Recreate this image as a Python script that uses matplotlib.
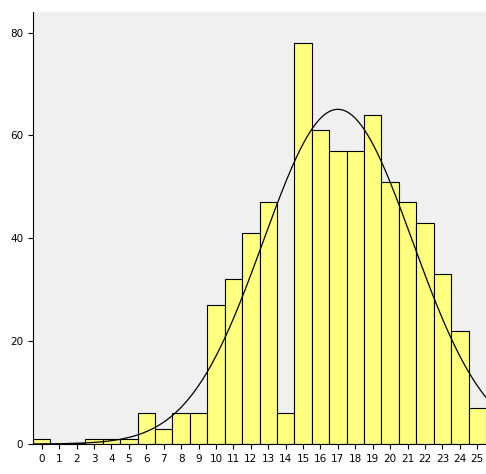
import numpy as np
import matplotlib
matplotlib.use("Agg")
import matplotlib.pyplot as plt

cats = list(range(26))
counts = [1,0,0.2,1,1,1,6,3,6,6,27,32,41,47,6,78,61,57,57,64,51,47,43,33,22,7]
mean, sd = 17.0, 4.28

fig = plt.figure(figsize=(4.86,4.74), dpi=100)
ax = fig.add_axes([33/486, 30/474, 453/486, 432/474])
ax.set_facecolor('#f0f0f0')
ax.bar(cats, counts, width=1.0, color='#ffff80', edgecolor='black', linewidth=0.8)
N = sum(counts)
xs = np.linspace(-0.5, 25.5, 400)
ax.plot(xs, N/(sd*np.sqrt(2*np.pi))*np.exp(-0.5*((xs-mean)/sd)**2), color='black', lw=0.9)
ax.set_xlim(-0.5, 25.5)
ax.set_ylim(0, 84)
ax.set_xticks(cats)
ax.set_yticks([0,20,40,60,80])
ax.tick_params(labelsize=7.5)
ax.spines['top'].set_visible(False)
ax.spines['right'].set_visible(False)
fig.savefig('out.png')
